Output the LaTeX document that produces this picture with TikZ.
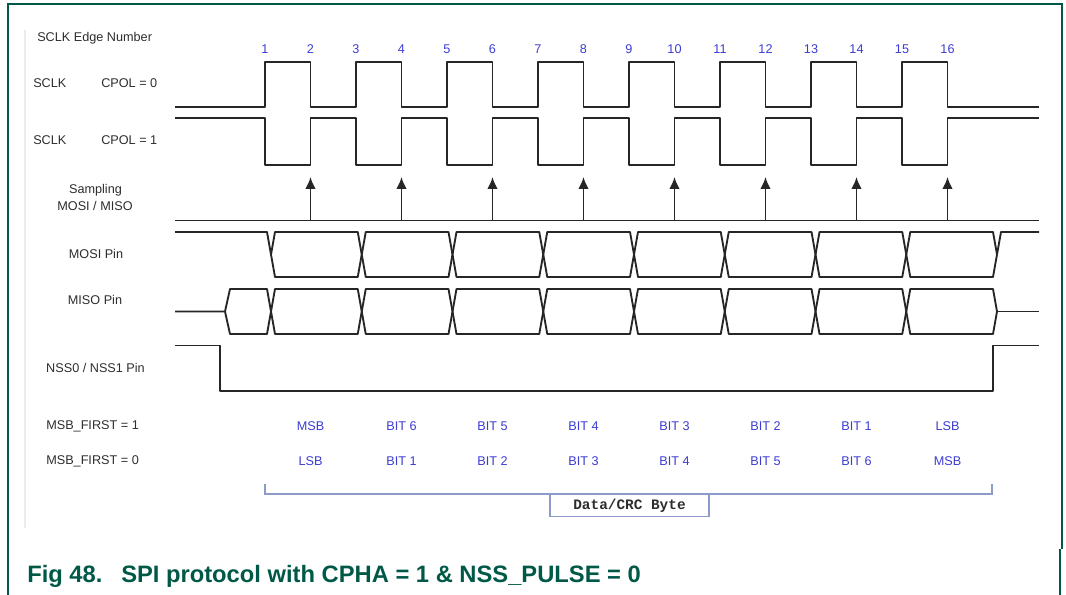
\documentclass[tikz,border=0pt]{standalone}
\usepackage{fontspec}
\setmainfont{Liberation Sans}
\setmonofont{Liberation Mono}
\usepackage{tikz}
\usetikzlibrary{arrows.meta}

\definecolor{framegreen}{RGB}{0,88,70}
\definecolor{edgeblue}{RGB}{60,60,210}
\definecolor{labelgrey}{RGB}{45,45,45}
\definecolor{bracketblue}{RGB}{140,155,200}

\begin{document}
\begin{tikzpicture}[
    x=0.75pt, y=-0.75pt,
    frame/.style={draw=framegreen, line width=1.5pt},
    siglabel/.style={font=\fontsize{9.5}{11}\selectfont, text=labelgrey, inner sep=0pt},
    edgenum/.style={font=\fontsize{9.5}{11}\selectfont, text=edgeblue, inner sep=0pt},
    bitlabel/.style={font=\fontsize{9.5}{11}\selectfont, text=edgeblue, inner sep=0pt},
    wave/.style={draw=black!85, line width=1.4pt, line join=round},
    sample/.style={wave, -{Latex[length=9pt, width=8pt]}},
    bracket/.style={draw=bracketblue, line width=0.8pt},
    bytebox/.style={draw=bracketblue, line width=0.8pt, minimum width=119.25pt, minimum height=16.5pt,
        font=\ttfamily\bfseries\fontsize{10.8}{12}\selectfont, text=labelgrey, inner sep=0pt},
    caption/.style={font=\fontsize{17.8}{20}\selectfont\bfseries, text=framegreen, inner sep=0pt}
]
\useasboundingbox (0,0) rectangle (1066,595);

% Rahmen
\draw[frame] (8,595) -- (8,4) -- (1062,4) -- (1062,549);
\draw[frame] (1060,549) -- (1060,595);
\draw[black!8, line width=0.8pt] (25,30) -- (25,528);

% Beschriftungen links
\node[siglabel, anchor=west] (edgetitle) at (37,38) {SCLK Edge Number};
\node[siglabel, anchor=west] (sclka) at (33,83) {SCLK};
\node[siglabel, anchor=west] (cpola) at (101,83) {CPOL = 0};
\node[siglabel, anchor=west] (sclkb) at (33,140) {SCLK};
\node[siglabel, anchor=west] (cpolb) at (101,140) {CPOL = 1};
\node[siglabel] (samp) at (95.5,190) {Sampling};
\node[siglabel] (sampsig) at (95,205.5) {MOSI / MISO};
\node[siglabel] (mosi) at (96,254) {MOSI Pin};
\node[siglabel] (miso) at (95,300) {MISO Pin};
\node[siglabel] (nss) at (95.5,368) {NSS0 / NSS1 Pin};
\node[siglabel, anchor=west] (msbone) at (46,426) {MSB\_FIRST = 1};
\node[siglabel, anchor=west] (msbzero) at (46,461) {MSB\_FIRST = 0};

% Flankennummern
\foreach \k in {1,...,16}
    \node[edgenum] (n\k) at ({265+45.5*(\k-1)},49) {\k};

% SCLK
\draw[wave] (175,107) \foreach \i in {0,...,7}{ -- ({265+91*\i},107) -- ++(0,-45) -- ++(45.5,0) -- ++(0,45)} -- (1039,107);
\draw[wave] (175,118) \foreach \i in {0,...,7}{ -- ({265+91*\i},118) -- ++(0,47) -- ++(45.5,0) -- ++(0,-47)} -- (1039,118);

% Abtastung
\draw[wave] (175,220.5) -- (1039,220.5);
\foreach \i in {0,...,7}
    \draw[sample] ({310.5+91*\i},220.5) -- ++(0,-43.5);

% MOSI / MISO
\foreach \yt in {232,289}
    \foreach \i in {0,...,7}
        \draw[wave] ({271+90.75*\i},{\yt+22.5}) -- ++(4,-22.5) -- ({357.75+90.75*\i},{\yt})
            -- ++(4,22.5) -- ++(-4,22.5) -- ({275+90.75*\i},{\yt+45}) -- cycle;
\draw[wave] (175,232) -- (267,232) -- (271,254.5);
\draw[wave] (997,254.5) -- (1001,232) -- (1039,232);
\draw[wave] (175,311.5) -- (225,311.5) -- (230,289) -- (267,289) -- (271,311.5)
    -- (267,334) -- (230,334) -- (225,311.5);
\draw[wave] (997,311.5) -- (1039,311.5);

% NSS
\draw[wave] (175,345.5) -- (220,345.5) -- (220,391) -- (993,391) -- (993,345.5) -- (1039,345.5);

% Bitreihenfolge
\foreach \lab [count=\i from 0] in {MSB, BIT 6, BIT 5, BIT 4, BIT 3, BIT 2, BIT 1, LSB}
    \node[bitlabel] (hi\i) at ({310.5+91*\i},426) {\lab};
\foreach \lab [count=\i from 0] in {LSB, BIT 1, BIT 2, BIT 3, BIT 4, BIT 5, BIT 6, MSB}
    \node[bitlabel] (lo\i) at ({310.5+91*\i},461) {\lab};

% Klammer
\draw[bracket] (265,484) -- (265,494) -- (992,494) -- (992,484);
\node[bytebox, anchor=north] (crc) at (629.5,494) {Data/CRC Byte};

% Bildunterschrift
\node[caption, anchor=base west] (fignum) at (27,582) {Fig 48.};
\node[caption, anchor=base west] (figtext) at (121,582) {SPI protocol with CPHA = 1 \& NSS\_PULSE = 0};

\end{tikzpicture}
\end{document}
